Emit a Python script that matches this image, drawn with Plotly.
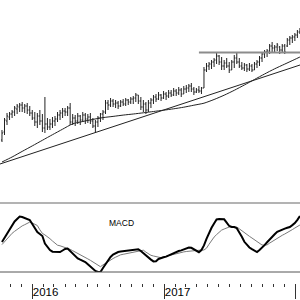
import plotly.graph_objects as go
import pandas as pd

# weekly bar dates (Fridays)
week_dates = pd.date_range("2015-10-09", periods=119, freq="7D")

high = [12.0,13.2,13.7,13.8,14.0,14.4,14.6,14.7,14.8,14.6,
        14.7,14.4,14.0,13.8,13.7,14.0,13.6,15.3,13.2,13.1,
        13.3,13.4,13.8,14.0,14.2,14.2,14.4,14.7,13.6,13.5,
        13.7,13.5,13.8,13.7,13.6,13.7,13.2,13.0,13.4,13.7,
        14.0,15.0,15.0,15.2,15.1,15.0,14.9,15.0,15.1,15.2,
        15.1,15.3,15.4,15.7,15.5,15.3,15.0,14.8,15.0,15.2,
        15.5,15.6,15.8,15.6,15.9,15.8,16.0,16.0,16.2,16.1,
        16.3,16.2,16.4,16.5,16.6,16.7,16.3,16.2,16.4,16.3,
        18.3,18.7,18.8,19.0,19.2,19.7,19.5,19.3,19.0,19.2,
        18.8,19.0,19.5,19.8,19.2,18.8,18.7,18.6,18.7,18.6,
        18.8,19.0,19.4,19.8,20.0,20.1,20.6,20.8,20.5,20.7,
        20.4,20.6,20.6,21.2,21.4,21.5,21.7,22.0,22.2]
low = [10.8,11.5,12.5,13.0,13.2,13.4,13.6,13.8,13.8,13.7,
       13.6,13.4,13.0,12.4,12.2,12.5,11.8,11.7,12.0,12.0,
       12.2,12.4,12.8,13.0,13.2,13.4,13.4,12.5,12.5,12.4,
       12.6,12.5,12.8,12.6,12.7,12.6,12.2,11.7,12.3,12.8,
       13.0,13.6,14.0,14.3,14.3,14.2,14.1,14.3,14.4,14.4,
       14.5,14.6,14.6,14.8,14.6,14.0,13.8,13.6,13.8,14.2,
       14.6,14.8,15.0,14.9,15.1,15.0,15.2,15.3,15.4,15.4,
       15.5,15.3,15.6,15.7,15.8,15.8,15.5,15.7,15.7,15.6,
       16.2,17.8,18.0,18.1,18.3,18.6,18.5,18.0,18.0,18.2,
       17.7,18.0,18.2,18.6,18.2,18.0,17.9,17.8,17.9,17.8,
       18.0,18.2,18.4,18.8,19.2,19.3,19.6,19.8,19.7,19.9,
       19.6,19.8,19.6,20.3,20.5,20.7,20.9,21.2,21.6]
open_ = [11.0,11.8,12.9,13.3,13.6,13.8,14.1,14.3,14.5,14.2,
         14.4,14.0,13.7,13.2,12.8,13.4,12.9,12.2,12.6,12.3,
         12.6,12.9,13.1,13.5,13.7,13.9,13.8,14.2,12.8,13.2,
         12.9,13.4,13.0,13.5,13.1,13.3,12.9,12.4,12.8,13.2,
         13.6,13.8,14.7,14.5,14.9,14.6,14.7,14.4,14.8,14.6,
         15.0,14.8,15.1,15.2,15.5,14.9,14.3,14.6,14.0,14.7,
         15.0,15.3,15.1,15.5,15.2,15.6,15.4,15.7,15.5,15.9,
         15.7,16.0,15.6,16.1,16.2,16.4,16.1,15.8,16.0,15.9,
         16.2,18.0,18.4,18.6,18.8,19.0,19.4,18.8,18.4,18.7,
         18.4,18.0,18.8,19.2,18.8,18.4,18.2,18.5,18.1,18.4,
         18.0,18.6,18.8,19.2,19.6,19.8,19.9,20.4,20.2,20.3,
         20.3,20.0,20.4,20.4,21.0,21.2,21.3,21.5,21.8]
close = [11.7,13.0,13.4,13.6,13.8,14.2,14.4,14.5,14.2,14.4,
         14.0,13.7,13.2,12.8,13.4,12.9,12.2,12.6,12.3,12.6,
         12.9,13.1,13.5,13.7,13.9,13.8,14.2,12.8,13.2,12.9,
         13.4,13.0,13.5,13.1,13.3,12.9,12.4,12.8,13.2,13.6,
         13.8,14.7,14.5,14.9,14.6,14.7,14.4,14.8,14.6,15.0,
         14.8,15.1,15.2,15.5,14.9,14.3,14.6,14.0,14.7,15.0,
         15.3,15.1,15.5,15.2,15.6,15.4,15.7,15.5,15.9,15.7,
         16.0,15.6,16.1,16.2,16.4,16.1,15.8,16.0,15.9,16.2,
         18.0,18.4,18.6,18.8,19.0,19.4,18.8,18.4,18.7,18.4,
         18.0,18.8,19.2,18.8,18.4,18.2,18.5,18.1,18.4,18.0,
         18.6,18.8,19.2,19.6,19.8,19.9,20.4,20.2,20.3,20.5,
         20.0,20.4,19.8,21.0,21.2,21.3,21.5,21.8,22.0]

# moving average (read every 4 weeks)
ma_idx = [0,4,8,12,16,20,24,28,32,36,40,44,48,52,56,60,64,68,72,76,80,84,88,92,96,100,104,108,112,116,118]
ma_vals = [8.8,9.3,9.86,10.41,10.97,11.53,12.08,12.62,12.85,13.06,13.24,13.36,13.49,13.6,13.72,
           13.85,13.98,14.12,14.28,14.48,14.68,15.05,15.48,15.97,16.5,17.05,17.6,18.12,18.59,19.06,19.3]

trend_dates = ["2015-10-03 12:00", "2018-01-12 06:00"]
trend_vals = [8.6, 18.5]
resist_dates = ["2017-04-07", "2018-01-12 06:00"]
resist_vals = [19.75, 19.75]

macd = [-0.04,0.0,0.05,0.09,0.13,0.165,0.19,0.215,0.21,0.2,
        0.19,0.18,0.14,0.1,0.06,0.04,0.02,-0.055,-0.09,-0.12,
        -0.137,-0.14,-0.14,-0.14,-0.125,-0.11,-0.105,-0.13,-0.157,-0.18,
        -0.204,-0.217,-0.23,-0.24,-0.263,-0.284,-0.309,-0.33,-0.34,-0.34,
        -0.3,-0.26,-0.226,-0.19,-0.165,-0.15,-0.14,-0.136,-0.133,-0.129,
        -0.125,-0.122,-0.118,-0.114,-0.113,-0.13,-0.153,-0.174,-0.195,-0.216,
        -0.234,-0.232,-0.21,-0.198,-0.193,-0.186,-0.175,-0.163,-0.148,-0.137,
        -0.13,-0.124,-0.116,-0.106,-0.095,-0.098,-0.113,-0.128,-0.142,-0.12,
        -0.074,-0.009,0.052,0.102,0.145,0.185,0.19,0.19,0.187,0.154,
        0.12,0.11,0.11,0.098,0.06,0.012,-0.038,-0.069,-0.095,-0.111,
        -0.126,-0.14,-0.119,-0.097,-0.071,-0.043,-0.013,0.012,0.037,0.062,
        0.074,0.087,0.094,0.102,0.11,0.129,0.149,0.182,0.22]
signal = [-0.066,-0.036,-0.005,0.025,0.047,0.067,0.088,0.108,0.121,0.133,
          0.146,0.159,0.15,0.14,0.125,0.082,0.046,0.031,0.016,-0.007,
          -0.03,-0.052,-0.072,-0.078,-0.085,-0.092,-0.099,-0.113,-0.127,-0.142,
          -0.157,-0.172,-0.184,-0.197,-0.209,-0.223,-0.24,-0.258,-0.276,-0.287,
          -0.269,-0.252,-0.233,-0.217,-0.205,-0.192,-0.179,-0.168,-0.163,-0.157,
          -0.151,-0.145,-0.139,-0.134,-0.129,-0.124,-0.122,-0.141,-0.161,-0.173,
          -0.18,-0.188,-0.196,-0.197,-0.189,-0.182,-0.174,-0.167,-0.161,-0.155,
          -0.149,-0.144,-0.139,-0.135,-0.132,-0.128,-0.124,-0.121,-0.12,-0.12,
          -0.12,-0.102,-0.063,-0.021,0.009,0.034,0.057,0.079,0.09,0.102,
          0.11,0.11,0.11,0.11,0.092,0.071,0.051,0.034,0.017,0.0,
          -0.018,-0.035,-0.052,-0.07,-0.07,-0.069,-0.051,-0.034,-0.016,0.001,
          0.015,0.027,0.04,0.052,0.071,0.084,0.1,0.114,0.13]

fig = go.Figure()
fig.add_trace(go.Ohlc(x=week_dates, open=open_, high=high, low=low, close=close,
                      increasing_line_color="#222", decreasing_line_color="#222",
                      line_width=1, tickwidth=0.4, yaxis="y"))
fig.add_trace(go.Scatter(x=[week_dates[i] for i in ma_idx], y=ma_vals, mode="lines",
                         line=dict(color="#222", width=1, shape="spline", smoothing=0.6), yaxis="y"))
fig.add_trace(go.Scatter(x=trend_dates, y=trend_vals, mode="lines",
                         line=dict(color="#222", width=1), yaxis="y"))
fig.add_trace(go.Scatter(x=resist_dates, y=resist_vals, mode="lines",
                         line=dict(color="#8c8c8c", width=2), yaxis="y"))
fig.add_trace(go.Scatter(x=week_dates, y=signal, mode="lines",
                         line=dict(color="#7a7a7a", width=1), yaxis="y2"))
fig.add_trace(go.Scatter(x=week_dates, y=macd, mode="lines",
                         line=dict(color="black", width=2), yaxis="y2"))

fig.update_layout(
    width=300, height=300, margin=dict(l=0, r=0, t=0, b=0),
    paper_bgcolor="white", plot_bgcolor="white", showlegend=False,
    xaxis=dict(range=["2015-10-03 12:00", "2018-01-12 06:00"], domain=[0, 1],
               anchor="free", position=17/300, showline=False, showgrid=False, zeroline=False,
               ticks="outside", ticklen=15, tickwidth=1, tickcolor="#333",
               dtick="M12", tick0="2016-01-01", tickformat="%Y",
               ticklabelposition="outside right", ticklabelstandoff=-2,
               tickfont=dict(family="Liberation Sans, Arial", size=11.5, color="black"),
               minor=dict(ticks="outside", ticklen=3, dtick="M1", tick0="2016-01-01",
                          tickcolor="#333", showgrid=False),
               rangeslider=dict(visible=False), automargin=False, fixedrange=True),
    yaxis=dict(domain=[1/3, 1], range=[5, 25], visible=False, anchor="x"),
    yaxis2=dict(domain=[28/300, 97/300], range=[-0.34, 0.35], visible=False, anchor="x"),
    shapes=[
        dict(type="line", xref="paper", x0=0, x1=1, yref="y2 domain", y0=1, y1=1,
             line=dict(color="#9a9a9a", width=1.5)),
        dict(type="line", xref="paper", x0=0, x1=1, yref="y2 domain", y0=0, y1=0,
             line=dict(color="#555", width=1)),
    ],
    annotations=[dict(text="MACD", xref="paper", yref="paper", x=121.5/300, y=(300-229.5)/300,
                      showarrow=False, font=dict(family="Liberation Sans, Arial", size=8.5, color="black"))],
)
fig.write_html("out.html")
